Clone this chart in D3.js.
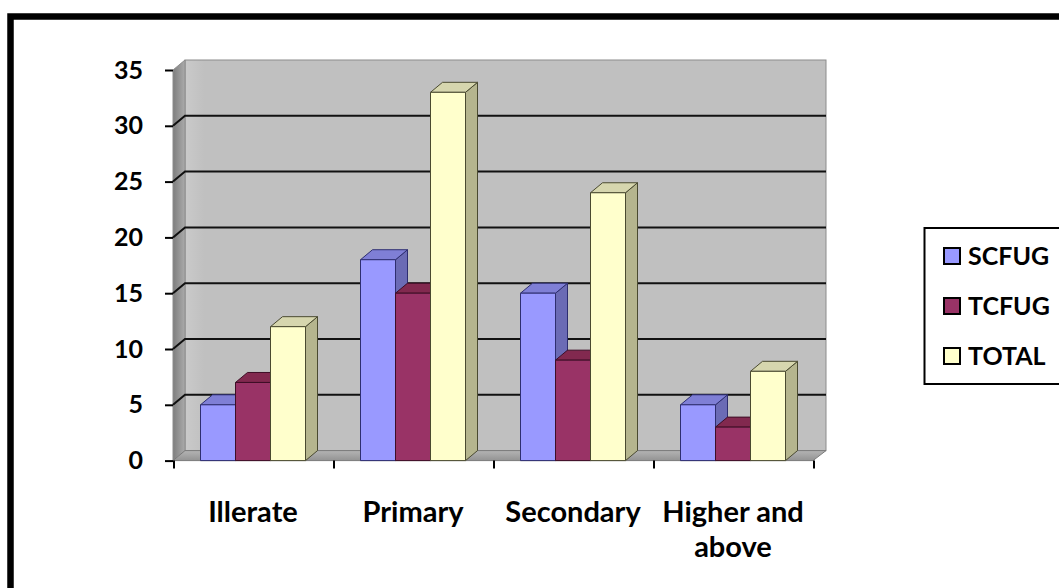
<!DOCTYPE html>
<html>
<head>
<meta charset="utf-8">
<script src="https://cdn.jsdelivr.net/npm/d3@7"></script>
<style>
  html, body { margin: 0; padding: 0; background: #fff; }
  svg { display: block; }
  text { font-family: Lato, "Open Sans", "Liberation Sans", sans-serif; font-weight: bold; fill: #000; }
</style>
</head>
<body>
<svg id="chart" width="1059" height="588"></svg>
<script>
// Education level of households by user group
const categories = ["Illerate", "Primary", "Secondary", "Higher and above"];
const categoryLabels = [["Illerate"], ["Primary"], ["Secondary"], ["Higher and", "above"]];
const seriesNames = ["SCFUG", "TCFUG", "TOTAL"];
const scfug = [5, 18, 15, 5];
const tcfug = [7, 15, 9, 3];
const total = [12, 33, 24, 8];
const yTicks = [0, 5, 10, 15, 20, 25, 30, 35];

const seriesValues = [scfug, tcfug, total];
const palette = {
  SCFUG: { front: "#9999FF", side: "#6B6BB5", top: "#7F7FD6", edge: "#2E2E70" },
  TCFUG: { front: "#993366", side: "#6E2449", top: "#82294F", edge: "#3E0E26" },
  TOTAL: { front: "#FFFFCC", side: "#B5B58E", top: "#D6D6AE", edge: "#4A4A30" }
};

const svg = d3.select("#chart");

// outer frame
svg.append("rect")
  .attr("x", 10.5).attr("y", 16.5)
  .attr("width", 1200).attr("height", 700)
  .attr("fill", "none").attr("stroke", "#000").attr("stroke-width", 6.5);

// oblique depth offset of the 3D box
const DX = 12, DY = -10;

const x = d3.scaleBand().domain(categories).range([173, 813]);
const xs = d3.scaleBand().domain(seriesNames).range([27.5, 132.5]);
const y = d3.scaleLinear().domain([0, 35]).range([460.6, 70]);

const y0 = y(0), yTop = y(35);
const xL = x.range()[0], xR = x.range()[1];

const defs = svg.append("defs");
const gSide = defs.append("linearGradient").attr("id", "sideGrad").attr("x1", 0).attr("x2", 1).attr("y1", 0).attr("y2", 0);
gSide.append("stop").attr("offset", 0).attr("stop-color", "#7E7E7E");
gSide.append("stop").attr("offset", 1).attr("stop-color", "#ABABAB");
const gFloor = defs.append("linearGradient").attr("id", "floorGrad").attr("x1", 0).attr("x2", 0).attr("y1", 0).attr("y2", 1);
gFloor.append("stop").attr("offset", 0).attr("stop-color", "#B4B4B4");
gFloor.append("stop").attr("offset", 1).attr("stop-color", "#939393");
const gWall = defs.append("linearGradient").attr("id", "wallGrad").attr("x1", 0).attr("x2", 1).attr("y1", 0).attr("y2", 0);
gWall.append("stop").attr("offset", 0).attr("stop-color", "#CACACA");
gWall.append("stop").attr("offset", 0.03).attr("stop-color", "#C0C0C0");
gWall.append("stop").attr("offset", 1).attr("stop-color", "#C0C0C0");

const poly = pts => pts.map(p => p.join(",")).join(" ");

// back wall
svg.append("rect")
  .attr("x", xL + DX).attr("y", yTop + DY)
  .attr("width", xR - xL + 1).attr("height", y0 - yTop)
  .attr("fill", "url(#wallGrad)").attr("stroke", "#8C8C8C").attr("stroke-width", 1);

// side wall
svg.append("polygon")
  .attr("points", poly([[xL, y0], [xL + DX, y0 + DY], [xL + DX, yTop + DY], [xL, yTop]]))
  .attr("fill", "url(#sideGrad)").attr("stroke", "#8C8C8C").attr("stroke-width", 1);

// floor
svg.append("polygon")
  .attr("points", poly([[xL, y0], [xR, y0], [xR + DX + 1, y0 + DY], [xL + DX, y0 + DY]]))
  .attr("fill", "url(#floorGrad)").attr("stroke", "#7A7A7A").attr("stroke-width", 1);

// gridlines on side and back walls
const grid = svg.append("g").attr("stroke", "#111").attr("stroke-width", 2).attr("fill", "none");
yTicks.filter(v => v > 0 && v < 35).forEach(v => {
  grid.append("polyline")
    .attr("points", poly([[xL, y(v)], [xL + DX, y(v) + DY], [xR + DX + 1, y(v) + DY]]));
});

// bars, painted left to right so each front face covers its neighbour's side
const bars = svg.append("g");
categories.forEach((c, i) => {
  seriesNames.forEach((s, j) => {
    const v = seriesValues[j][i];
    const col = palette[s];
    const bx0 = x(c) + xs(s), bx1 = bx0 + xs.bandwidth();
    const by = y(v);
    const g = bars.append("g").attr("stroke", col.edge).attr("stroke-width", 1).attr("stroke-linejoin", "round");
    g.append("polygon").attr("fill", col.side)
      .attr("points", poly([[bx1, y0], [bx1 + DX, y0 + DY], [bx1 + DX, by + DY], [bx1, by]]));
    g.append("polygon").attr("fill", col.top)
      .attr("points", poly([[bx0, by], [bx0 + DX, by + DY], [bx1 + DX, by + DY], [bx1, by]]));
    g.append("rect").attr("fill", col.front)
      .attr("x", bx0).attr("y", by).attr("width", bx1 - bx0).attr("height", y0 - by);
  });
});

// y axis
const yAxis = svg.append("g")
  .attr("transform", `translate(${xL},0)`)
  .call(d3.axisLeft(y).tickValues(yTicks).tickSize(8).tickPadding(22));
yAxis.select(".domain").remove();
yAxis.selectAll(".tick line").attr("stroke", "#000").attr("stroke-width", 2);
yAxis.selectAll(".tick text")
  .style("font-family", "Lato, 'Open Sans', sans-serif")
  .style("font-weight", "bold").attr("font-size", 25).attr("fill", "#000");

// x axis ticks at category boundaries
const xTickPos = categories.map(c => x(c)).concat([xR]);
svg.append("g").selectAll("line").data(xTickPos).join("line")
  .attr("x1", d => d + 1).attr("x2", d => d + 1)
  .attr("y1", y0).attr("y2", y0 + 8)
  .attr("stroke", "#000").attr("stroke-width", 2);

// category labels
const labels = svg.append("g").attr("text-anchor", "middle").attr("font-size", 29);
categories.forEach((c, i) => {
  categoryLabels[i].forEach((line, k) => {
    labels.append("text")
      .attr("x", x(c) + x.bandwidth() / 2)
      .attr("y", 522 + k * 35)
      .text(line);
  });
});

// legend
const legend = svg.append("g");
legend.append("rect")
  .attr("x", 924.5).attr("y", 228).attr("width", 200).attr("height", 156)
  .attr("fill", "#fff").attr("stroke", "#000").attr("stroke-width", 2);
seriesNames.forEach((s, j) => {
  const cy = 256 + j * 50;
  legend.append("rect")
    .attr("x", 944).attr("y", cy - 8).attr("width", 16).attr("height", 16)
    .attr("fill", palette[s].front).attr("stroke", "#000").attr("stroke-width", 2);
  legend.append("text")
    .attr("x", 968).attr("y", cy + 9)
    .attr("font-size", 25)
    .text(s);
});
</script>
</body>
</html>
